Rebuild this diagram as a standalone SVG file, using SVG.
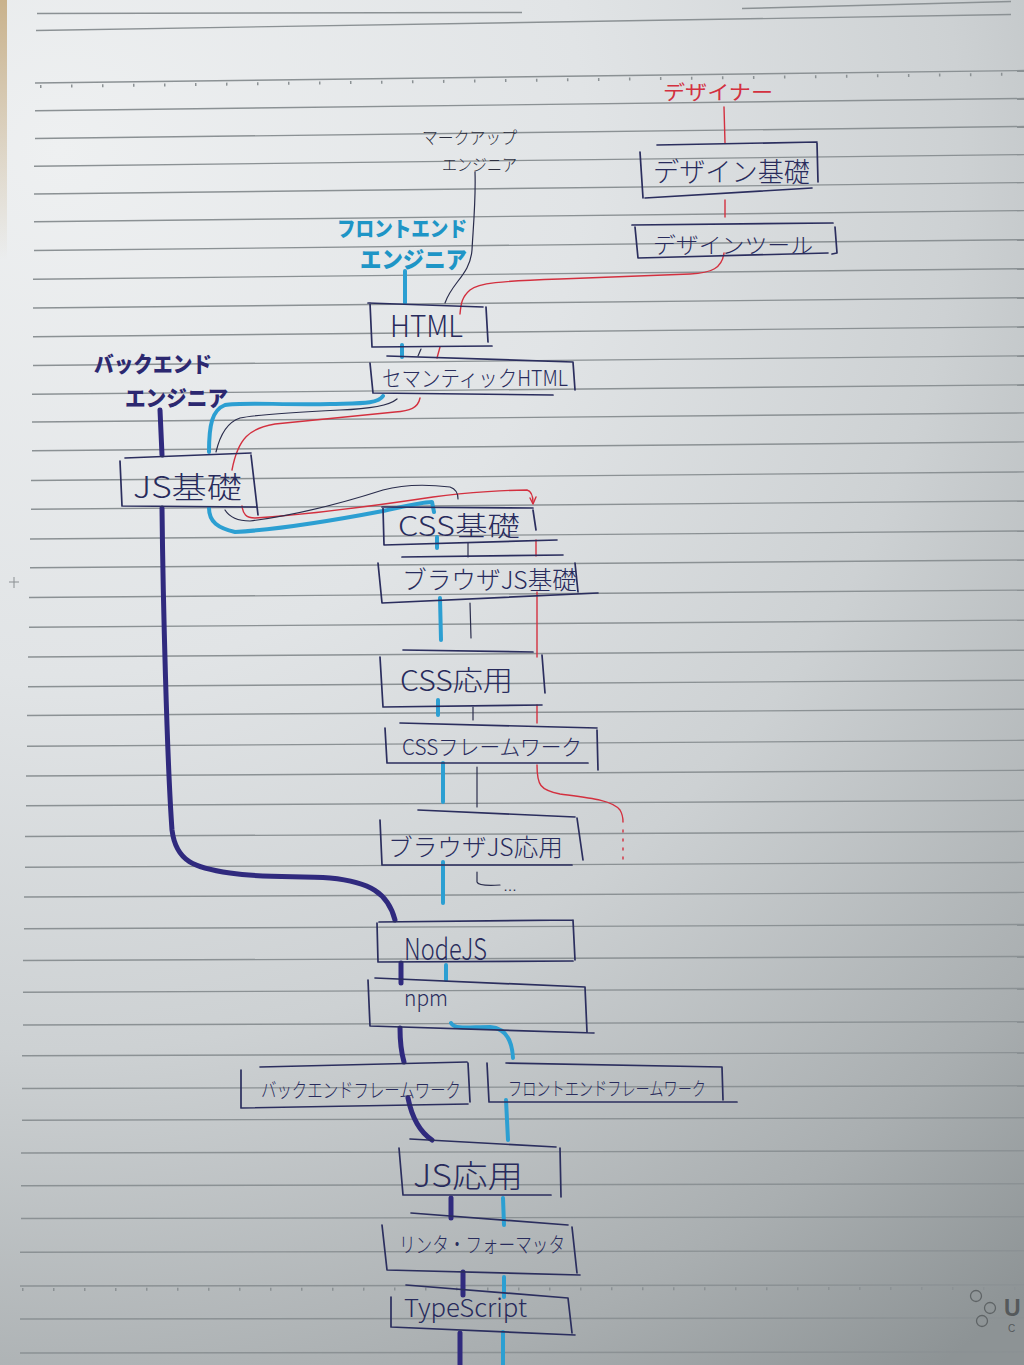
<svg xmlns="http://www.w3.org/2000/svg" width="1024" height="1365" viewBox="0 0 1024 1365">
<defs>
<radialGradient id="paperG" gradientUnits="userSpaceOnUse" cx="60" cy="150" r="1500">
<stop offset="0" stop-color="#eef0f1"/>
<stop offset="0.35" stop-color="#e1e4e6"/>
<stop offset="0.6" stop-color="#cdd1d3"/>
<stop offset="0.85" stop-color="#a9aeb0"/>
<stop offset="1" stop-color="#8d9395"/>
</radialGradient>
<linearGradient id="tanG" x1="0" y1="0" x2="0" y2="1">
<stop offset="0" stop-color="#c9b28c"/>
<stop offset="1" stop-color="#c9b28c" stop-opacity="0"/>
</linearGradient>
<style>
.rule{stroke:#8b9194;stroke-width:1.4;fill:none}
.tick{stroke:#8b9194;stroke-width:3;stroke-dasharray:1.5 29.5;fill:none}
.bx{fill:none;stroke:#2b2e5e;stroke-width:1.7;stroke-linecap:round;stroke-linejoin:round}
.t{font-family:"Noto Sans CJK JP","Noto Sans",sans-serif;fill:#282b5c;font-weight:300}
.lbl{font-family:"Noto Sans CJK JP","Noto Sans",sans-serif;font-weight:900}
.navy{fill:none;stroke:#302a7e;stroke-width:5;stroke-linecap:round;stroke-linejoin:round}
.teal{fill:none;stroke:#2c9fd2;stroke-width:4;stroke-linecap:round;stroke-linejoin:round}
.thin{fill:none;stroke:#2a2d4c;stroke-width:1.2;stroke-linecap:round}
.red{fill:none;stroke:#d3303f;stroke-width:1.4;stroke-linecap:round;stroke-linejoin:round}
</style>
</defs>

<g id="paper">
<rect x="0" y="0" width="1024" height="1365" fill="url(#paperG)"/>
<rect x="0" y="0" width="7" height="260" fill="url(#tanG)"/>
<line class="rule" x1="37" y1="13.5" x2="522" y2="12.5"/>
<line class="rule" x1="742" y1="8.5" x2="1011" y2="1.5"/>
<line class="rule" x1="36" y1="30.5" x2="1011" y2="14.5"/>
<line class="rule" x1="35" y1="83" x2="1024" y2="70.5"/>
<line class="tick" x1="40" y1="86.5" x2="1024" y2="74"/>
<line class="rule" x1="35" y1="110.7" x2="1024" y2="98.5"/>
<line class="rule" x1="35" y1="138.5" x2="1024" y2="126.5"/>
<line class="rule" x1="34" y1="166.2" x2="1024" y2="154.6"/>
<line class="rule" x1="34" y1="194" x2="1024" y2="182.6"/>
<line class="rule" x1="34" y1="221.7" x2="1024" y2="210.6"/>
<line class="rule" x1="34" y1="250.5" x2="1024" y2="239.7"/>
<line class="rule" x1="33" y1="279.2" x2="1024" y2="268.7"/>
<line class="rule" x1="33" y1="308" x2="1024" y2="297.7"/>
<line class="rule" x1="33" y1="336.7" x2="1024" y2="326.8"/>
<line class="rule" x1="33" y1="365.5" x2="1024" y2="355.8"/>
<line class="rule" x1="32" y1="394.2" x2="1024" y2="384.8"/>
<line class="rule" x1="32" y1="422" x2="1024" y2="412.9"/>
<line class="rule" x1="32" y1="450.7" x2="1024" y2="441.9"/>
<line class="rule" x1="31" y1="480.5" x2="1024" y2="471.9"/>
<line class="rule" x1="31" y1="509.2" x2="1024" y2="501"/>
<line class="rule" x1="30" y1="539" x2="1024" y2="531"/>
<line class="rule" x1="30" y1="567.7" x2="1024" y2="560"/>
<line class="rule" x1="29" y1="597.5" x2="1024" y2="590.1"/>
<line class="rule" x1="29" y1="627.2" x2="1024" y2="620.1"/>
<line class="rule" x1="28" y1="657" x2="1024" y2="650.2"/>
<line class="rule" x1="28" y1="686.7" x2="1024" y2="680.2"/>
<line class="rule" x1="27" y1="715.5" x2="1024" y2="709.2"/>
<line class="rule" x1="27" y1="746.2" x2="1024" y2="740.3"/>
<line class="rule" x1="26" y1="776" x2="1024" y2="770.3"/>
<line class="rule" x1="26" y1="805.7" x2="1024" y2="800.3"/>
<line class="rule" x1="25" y1="836.5" x2="1024" y2="831.4"/>
<line class="rule" x1="25" y1="867.2" x2="1024" y2="862.4"/>
<line class="rule" x1="24" y1="897" x2="1024" y2="892.4"/>
<line class="rule" x1="24" y1="928.7" x2="1024" y2="924.5"/>
<line class="rule" x1="23" y1="960.5" x2="1024" y2="956.5"/>
<line class="rule" x1="23" y1="992.2" x2="1024" y2="988.5"/>
<line class="rule" x1="23" y1="1025" x2="1024" y2="1021.6"/>
<line class="rule" x1="22" y1="1055.7" x2="1024" y2="1052.6"/>
<line class="rule" x1="22" y1="1088.5" x2="1024" y2="1085.7"/>
<line class="rule" x1="22" y1="1120.2" x2="1024" y2="1117.7"/>
<line class="rule" x1="21" y1="1153" x2="1024" y2="1150.7"/>
<line class="rule" x1="21" y1="1185.7" x2="1024" y2="1183.8"/>
<line class="rule" x1="21" y1="1218.5" x2="1024" y2="1216.8"/>
<line class="rule" x1="20" y1="1252.2" x2="1024" y2="1250.8"/>
<line class="rule" x1="20" y1="1286" x2="1024" y2="1284.9"/>
<line class="tick" x1="22" y1="1289.5" x2="1024" y2="1288.4"/>
<line class="rule" x1="20" y1="1319" x2="1024" y2="1317.9"/>
<line class="rule" x1="20" y1="1353" x2="1024" y2="1351.9"/>
<path d="M14,577 L14,588 M9,582 L19,582" stroke="#8a8f92" stroke-width="1" fill="none"/>
<g fill="none" stroke="#5f6466" stroke-width="1.3">
<circle cx="976" cy="1296" r="5.5"/>
<circle cx="990" cy="1308" r="5.5"/>
<circle cx="982" cy="1321" r="5.5"/>
</g>
<text x="1004" y="1316" font-family="Liberation Sans, sans-serif" font-size="23" font-weight="bold" fill="#55595b">U</text>
<text x="1008" y="1332" font-family="Liberation Sans, sans-serif" font-size="10" fill="#55595b">C</text>
</g>

<g id="connectors">
<path class="red" d="M724,107 L725,143"/>
<path class="red" d="M725,200 L725,217"/>
<path class="red" d="M724,253 C722,268 712,273 690,274 L560,279 C500,281 478,283 470,290 C462,297 461,303 460,314"/>
<path class="red" d="M440,347 L437,358"/>
<path class="red" d="M420,398 C418,408 410,411 395,412 L275,424 C250,428 238,438 232,470"/>
<path class="red" d="M242,506 C243,514 246,518 255,518 C300,515 360,508 433,497 C470,492 510,490 527,490 C531,491 533,495 533,503"/>
<path class="red" d="M530,498 L533,504 L536,497"/>
<path class="red" d="M536,540 L536,556"/>
<path class="red" d="M537,592 L537,657"/>
<path class="red" d="M537,705 L537,723"/>
<path class="red" d="M537,765 C537,785 540,790 560,794 C590,798 612,800 620,810 C623,815 623,818 623,822"/>
<path class="red" d="M623,830 L623,860" stroke-dasharray="2 7"/>

<path class="thin" d="M475,172 C476,200 473,230 472,250 C470,275 452,282 445,303"/>
<path class="thin" d="M421,349 L418,356"/>
<path class="thin" d="M397,399 C390,405 370,409 340,410 C300,412 260,414 240,418 C228,422 220,435 216,452"/>
<path class="thin" d="M225,510 C230,518 238,521 250,521 C290,516 330,507 383,490 C405,484 425,484 450,487 C456,489 458,494 458,499"/>
<path class="thin" d="M468,543 L468,557"/>
<path class="thin" d="M470,603 L471,638"/>
<path class="thin" d="M473,707 L473,720"/>
<path class="thin" d="M477,767 L477,807"/>
<path class="thin" d="M477,872 L477,882 C478,885 485,886 500,885"/>
<text x="503" y="891" font-family="Liberation Sans, sans-serif" font-size="14" fill="#2a2d4c">…</text>

<path class="teal" d="M405,271 L405,303" stroke-width="4.5"/>
<path class="teal" d="M402,345 L402,357"/>
<path class="teal" d="M383,396 C378,404 360,403 330,404 C280,405 240,402 225,405 C212,410 209,425 209,452"/>
<path class="teal" d="M209,508 C209,522 218,528 235,532 C270,530 320,523 383,511 C410,505 425,502 432,502 L434,512"/>
<path class="teal" d="M437,537 L437,548"/>
<path class="teal" d="M440,598 L441,640"/>
<path class="teal" d="M438,700 L438,715"/>
<path class="teal" d="M443,763 L443,802"/>
<path class="teal" d="M443,862 L443,903"/>
<path class="teal" d="M446,965 L446,980"/>
<path class="teal" d="M451,1023 C455,1030 470,1027 490,1027 C505,1028 512,1040 513,1058"/>
<path class="teal" d="M506,1100 L508,1140"/>
<path class="teal" d="M503,1198 L504,1225"/>
<path class="teal" d="M504,1277 L504,1297"/>
<path class="teal" d="M503,1332 L503,1365"/>

<path class="navy" d="M160,410 L162,455"/>
<path class="navy" d="M162,508 C163,600 167,760 172,830 C176,862 195,868 230,873 C270,879 300,875 330,878 C370,882 388,893 395,920"/>
<path class="navy" d="M401,963 L401,983"/>
<path class="navy" d="M400,1028 C400,1045 402,1055 404,1062"/>
<path class="navy" d="M408,1098 C412,1118 420,1132 432,1140"/>
<path class="navy" d="M451,1198 L451,1218"/>
<path class="navy" d="M463,1272 L463,1295"/>
<path class="navy" d="M460,1333 L460,1365"/>
</g>

<g id="designer">
<text class="t" x="663" y="100" font-size="20" style="fill:#d3303f;font-weight:400" textLength="110" lengthAdjust="spacingAndGlyphs">デザイナー</text>
</g>
<g id="markup-engineer">
<text class="t" x="422" y="144" font-size="17" style="fill:#2c2f3e" textLength="95" lengthAdjust="spacingAndGlyphs">マークアップ</text>
<text class="t" x="442" y="171" font-size="17" style="fill:#2c2f3e" textLength="75" lengthAdjust="spacingAndGlyphs">エンジニア</text>
</g>
<g id="frontend-engineer">
<text class="lbl" x="337" y="236" font-size="21" fill="#1e95c6" textLength="130" lengthAdjust="spacingAndGlyphs">フロントエンド</text>
<text class="lbl" x="360" y="268" font-size="23" fill="#1e95c6" textLength="107" lengthAdjust="spacingAndGlyphs">エンジニア</text>
</g>
<g id="backend-engineer">
<text class="lbl" x="94" y="372" font-size="22" fill="#2c2870" textLength="118" lengthAdjust="spacingAndGlyphs">バックエンド</text>
<text class="lbl" x="125" y="406" font-size="22" fill="#2c2870" textLength="103" lengthAdjust="spacingAndGlyphs">エンジニア</text>
</g>

<g id="design-basics">
<path class="bx" d="M657,145 L817,142 M817,143 L818,182 M640,152 L643,198 M645,198 L812,188"/>
<text class="t" x="653" y="182" font-size="27" textLength="157" lengthAdjust="spacingAndGlyphs">デザイン基礎</text>
</g>
<g id="design-tools">
<path class="bx" d="M632,225 L833,223 M835,227 L837,253 L832,254 M635,227 L638,258 M638,258 L828,253"/>
<text class="t" x="653" y="253" font-size="22" textLength="160" lengthAdjust="spacingAndGlyphs">デザインツール</text>
</g>
<g id="html">
<path class="bx" d="M368,303 L483,307 M486,307 L488,342 M370,303 L372,347 M372,347 L492,346"/>
<text class="t" x="390" y="337" font-size="30" textLength="73" lengthAdjust="spacingAndGlyphs">HTML</text>
</g>
<g id="semantic-html">
<path class="bx" d="M387,356 L573,362 M573,362 L575,390 M370,363 L373,393 M373,393 L553,395"/>
<text class="t" x="382" y="386" font-size="22" textLength="186" lengthAdjust="spacingAndGlyphs">セマンティックHTML</text>
</g>
<g id="js-basics">
<path class="bx" d="M125,458 L251,453 M251,455 L258,515 M120,461 L122,506 M122,506 L257,507"/>
<text class="t" x="133" y="498" font-size="30" textLength="109" lengthAdjust="spacingAndGlyphs">JS基礎</text>
</g>
<g id="css-basics">
<path class="bx" d="M382,507 L533,508 M533,510 L536,530 M383,508 L384,545 M384,545 L557,540"/>
<text class="t" x="398" y="536" font-size="27" textLength="122" lengthAdjust="spacingAndGlyphs">CSS基礎</text>
</g>
<g id="browser-js-basics">
<path class="bx" d="M402,557 L563,555 M575,563 L578,592 M378,563 L382,603 M382,603 L598,593"/>
<text class="t" x="402" y="589" font-size="25" textLength="175" lengthAdjust="spacingAndGlyphs">ブラウザJS基礎</text>
</g>
<g id="css-advanced">
<path class="bx" d="M403,650 L533,652 M542,655 L545,693 M380,657 L383,707 M383,707 L542,705"/>
<text class="t" x="400" y="691" font-size="28" textLength="113" lengthAdjust="spacingAndGlyphs">CSS応用</text>
</g>
<g id="css-framework">
<path class="bx" d="M400,723 L597,728 M597,730 L598,770 M385,728 L387,763 M387,763 L588,763"/>
<text class="t" x="402" y="755" font-size="22" textLength="180" lengthAdjust="spacingAndGlyphs">CSSフレームワーク</text>
</g>
<g id="browser-js-advanced">
<path class="bx" d="M418,810 L575,817 M577,818 L583,860 M380,820 L382,865 M382,865 L572,865"/>
<text class="t" x="388" y="856" font-size="24" textLength="175" lengthAdjust="spacingAndGlyphs">ブラウザJS応用</text>
</g>
<g id="nodejs">
<path class="bx" d="M379,922 L573,920 M573,920 L575,960 M377,923 L378,962 M378,962 L573,961"/>
<text class="t" x="404" y="960" font-size="30" textLength="83" lengthAdjust="spacingAndGlyphs">NodeJS</text>
</g>
<g id="npm">
<path class="bx" d="M375,978 L585,987 M585,987 L587,1032 M368,980 L370,1026 M370,1026 L594,1033"/>
<text class="t" x="404" y="1006" font-size="22" textLength="44" lengthAdjust="spacingAndGlyphs">npm</text>
</g>
<g id="backend-framework">
<path class="bx" d="M260,1067 L467,1062 M468,1063 L470,1102 M241,1070 L241,1108 M241,1108 L468,1104"/>
<text class="t" x="261" y="1098" font-size="20" textLength="200" lengthAdjust="spacingAndGlyphs">バックエンドフレームワーク</text>
</g>
<g id="frontend-framework">
<path class="bx" d="M506,1063 L722,1067 M722,1067 L723,1100 M487,1063 L489,1102 M489,1102 L737,1102"/>
<text class="t" x="508" y="1096" font-size="19" textLength="198" lengthAdjust="spacingAndGlyphs">フロントエンドフレームワーク</text>
</g>
<g id="js-advanced">
<path class="bx" d="M410,1139 L556,1147 M560,1148 L561,1197 M399,1148 L403,1195 M403,1195 L551,1195"/>
<text class="t" x="413" y="1187" font-size="31" textLength="110" lengthAdjust="spacingAndGlyphs">JS応用</text>
</g>
<g id="linter-formatter">
<path class="bx" d="M411,1213 L568,1225 M572,1227 L577,1273 M382,1225 L387,1270 M387,1270 L580,1275"/>
<text class="t" x="399" y="1252" font-size="21" textLength="166" lengthAdjust="spacingAndGlyphs">リンタ・フォーマッタ</text>
</g>
<g id="typescript">
<path class="bx" d="M406,1285 L568,1298 M568,1298 L572,1333 M391,1297 L391,1327 M391,1327 L575,1335"/>
<text class="t" x="404" y="1317" font-size="25" textLength="123" lengthAdjust="spacingAndGlyphs">TypeScript</text>
</g>
</svg>
